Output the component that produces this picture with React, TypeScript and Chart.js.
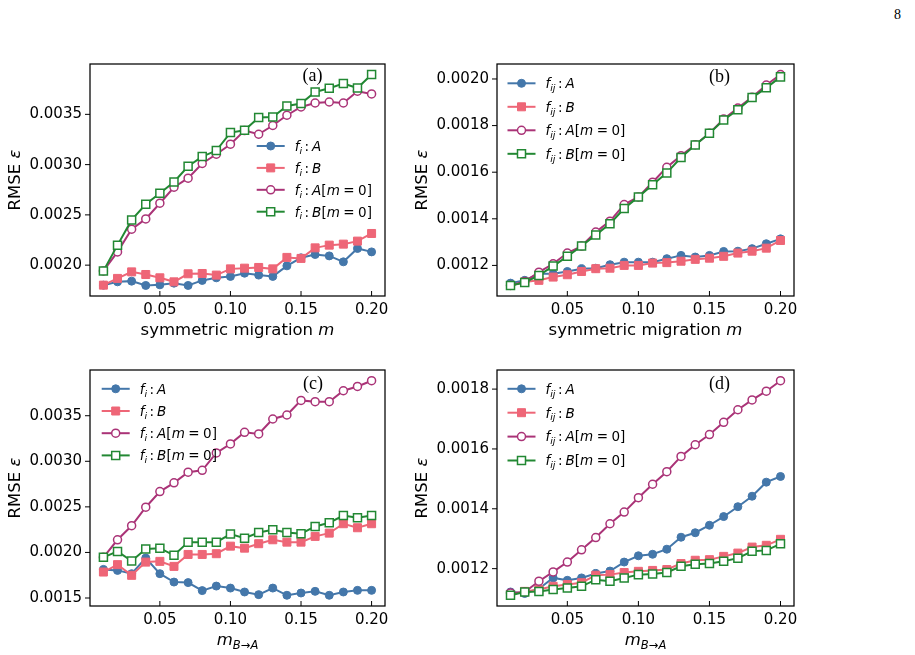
import React, { useEffect, useRef } from "react";
import { Chart, registerables } from "chart.js";

Chart.register(...registerables);

const SANS = '"DejaVu Sans", sans-serif';
const SERIF = '"Liberation Serif", "DejaVu Serif", serif';

// migration rates on the x axis
const M_VALUES = [
  0.01, 0.02, 0.03, 0.04, 0.05, 0.06, 0.07, 0.08, 0.09, 0.1,
  0.11, 0.12, 0.13, 0.14, 0.15, 0.16, 0.17, 0.18, 0.19, 0.2,
];
const X_TICKS = [0.05, 0.1, 0.15, 0.2];
const X_MIN = 0.0005;
const X_MAX = 0.2095;

// (a) symmetric migration, f_i
const A_FI_A = [0.001801, 0.001834, 0.001841, 0.001798, 0.001804, 0.001821, 0.001798, 0.001848, 0.001874, 0.001888, 0.00192, 0.001901, 0.001888, 0.001993, 0.002073, 0.002106, 0.002092, 0.002033, 0.002166, 0.002132];
const A_FI_B = [0.001801, 0.001868, 0.001933, 0.001907, 0.001874, 0.001834, 0.001914, 0.001917, 0.001901, 0.001963, 0.00197, 0.001977, 0.001963, 0.002077, 0.002067, 0.002172, 0.002199, 0.002209, 0.002239, 0.002315];
const A_FI_A0 = [0.001943, 0.002132, 0.002358, 0.00246, 0.002616, 0.002775, 0.002865, 0.003011, 0.003103, 0.003203, 0.003339, 0.003302, 0.003389, 0.003491, 0.003574, 0.003613, 0.003623, 0.003613, 0.00373, 0.003703];
const A_FI_B0 = [0.001943, 0.002199, 0.00245, 0.002606, 0.002716, 0.002828, 0.002984, 0.00308, 0.00314, 0.003319, 0.003342, 0.003468, 0.003474, 0.003583, 0.003607, 0.003723, 0.003759, 0.003806, 0.003762, 0.003896];
const A_Y_TICKS = [0.002, 0.0025, 0.003, 0.0035];

// (b) symmetric migration, f_ij
const B_FIJ_A = [0.001124, 0.001136, 0.001164, 0.001164, 0.001174, 0.001186, 0.001188, 0.001203, 0.001214, 0.001214, 0.001214, 0.001229, 0.001243, 0.001236, 0.001243, 0.00126, 0.001261, 0.001272, 0.001293, 0.001314];
const B_FIJ_B = [0.001114, 0.001129, 0.001136, 0.00115, 0.00116, 0.001174, 0.001186, 0.001188, 0.0012, 0.0012, 0.00121, 0.001212, 0.001218, 0.001226, 0.001231, 0.001239, 0.001253, 0.001261, 0.001274, 0.001307];
const B_FIJ_A0 = [0.001114, 0.001131, 0.001171, 0.001207, 0.001253, 0.001283, 0.001343, 0.00139, 0.001461, 0.001494, 0.001557, 0.001621, 0.001671, 0.001718, 0.001767, 0.001828, 0.001875, 0.001922, 0.001974, 0.002019];
const B_FIJ_B0 = [0.001114, 0.001127, 0.001157, 0.001197, 0.001239, 0.001283, 0.001331, 0.001379, 0.001444, 0.001494, 0.001546, 0.001597, 0.001663, 0.001717, 0.001767, 0.001824, 0.001868, 0.00192, 0.001962, 0.002009];
const B_Y_TICKS = [0.0012, 0.0014, 0.0016, 0.0018, 0.002];

// (c) one-way migration B -> A, f_i
const C_FI_A = [0.001814, 0.001803, 0.001767, 0.001938, 0.001767, 0.001675, 0.001669, 0.001581, 0.001631, 0.001609, 0.001566, 0.001537, 0.001609, 0.00153, 0.001555, 0.001573, 0.00153, 0.001566, 0.001584, 0.001584];
const C_FI_B = [0.001785, 0.001866, 0.001749, 0.001894, 0.001902, 0.001847, 0.001978, 0.001978, 0.001986, 0.002069, 0.002047, 0.002096, 0.002139, 0.002113, 0.002113, 0.002176, 0.002212, 0.002315, 0.002271, 0.002315];
const C_FI_A0 = [0.001946, 0.002139, 0.002293, 0.002496, 0.002668, 0.002764, 0.00288, 0.002901, 0.003092, 0.003191, 0.003318, 0.0033, 0.003464, 0.003508, 0.003668, 0.003654, 0.003654, 0.003774, 0.003821, 0.003884];
const C_FI_B0 = [0.001946, 0.002011, 0.001905, 0.002037, 0.002047, 0.001968, 0.002113, 0.002113, 0.002113, 0.002201, 0.002157, 0.002219, 0.002249, 0.002219, 0.002205, 0.002285, 0.002326, 0.002405, 0.00238, 0.002405];
const C_Y_TICKS = [0.0015, 0.002, 0.0025, 0.003, 0.0035];

// (d) one-way migration B -> A, f_ij
const D_FIJ_A = [0.001122, 0.001117, 0.001133, 0.001169, 0.001161, 0.001169, 0.001184, 0.001192, 0.001222, 0.001243, 0.001248, 0.001265, 0.001305, 0.00132, 0.001345, 0.001374, 0.001407, 0.001442, 0.001489, 0.001508];
const D_FIJ_B = [0.001113, 0.001124, 0.00113, 0.001141, 0.001147, 0.001153, 0.001178, 0.00118, 0.001187, 0.001191, 0.001194, 0.001197, 0.001217, 0.001228, 0.00123, 0.001241, 0.001252, 0.001272, 0.001278, 0.001298];
const D_FIJ_A0 = [0.001119, 0.001122, 0.001158, 0.001189, 0.001222, 0.001263, 0.001304, 0.00135, 0.001389, 0.001437, 0.001482, 0.001524, 0.001575, 0.001614, 0.001648, 0.001689, 0.001731, 0.001764, 0.001793, 0.001828];
const D_FIJ_B0 = [0.001111, 0.001122, 0.001124, 0.00113, 0.001135, 0.001141, 0.001163, 0.001158, 0.001169, 0.00118, 0.001182, 0.001187, 0.001208, 0.001215, 0.001217, 0.001225, 0.001235, 0.001258, 0.001261, 0.001283];
const D_Y_TICKS = [0.0012, 0.0014, 0.0016, 0.0018];

const BLUE = "#4477AA";
const PINK = "#EE6677";
const PURPLE = "#AA3377";
const GREEN = "#228833";

type Run = { t: string; it?: boolean; sub?: boolean; gap?: number };

function legendRuns(sub: string, pop: string, m0: boolean): Run[] {
  const runs: Run[] = [
    { t: "f", it: true },
    { t: sub, it: true, sub: true },
    { t: ":", gap: 2.5 },
    { t: pop, it: true, gap: 3 },
  ];
  if (m0) {
    runs.push({ t: "[" }, { t: "m", it: true }, { t: "=", gap: 3.5 }, { t: "0", gap: 3.5 }, { t: "]" });
  }
  return runs;
}

const X_TITLE_SYM: Run[] = [{ t: "symmetric migration " }, { t: "m", it: true }];
const X_TITLE_BA: Run[] = [
  { t: "m", it: true },
  { t: "B", it: true, sub: true },
  { t: "→", sub: true },
  { t: "A", it: true, sub: true },
];
const Y_TITLE: Run[] = [{ t: "RMSE " }, { t: "ε", it: true }];

type Series = { runs: Run[]; values: number[]; color: string; shape: "circle" | "rect"; hollow: boolean };

type PanelSpec = {
  tag: string;
  frame: { L: number; T: number; R: number; B: number };
  yTicks: number[];
  xTitle: Run[];
  series: Series[];
  legend: { x: number; y: number; step: number };
  tagPos: { x: number; y: number };
};

function fourSeries(sub: string, a: number[], b: number[], a0: number[], b0: number[]): Series[] {
  return [
    { runs: legendRuns(sub, "A", false), values: a, color: BLUE, shape: "circle", hollow: false },
    { runs: legendRuns(sub, "B", false), values: b, color: PINK, shape: "rect", hollow: false },
    { runs: legendRuns(sub, "A", true), values: a0, color: PURPLE, shape: "circle", hollow: true },
    { runs: legendRuns(sub, "B", true), values: b0, color: GREEN, shape: "rect", hollow: true },
  ];
}

const PANELS: PanelSpec[] = [
  {
    tag: "(a)",
    frame: { L: 90, T: 64, R: 385, B: 296 },
    yTicks: A_Y_TICKS,
    xTitle: X_TITLE_SYM,
    series: fourSeries("i", A_FI_A, A_FI_B, A_FI_A0, A_FI_B0),
    legend: { x: 166.7, y: 82, step: 21.9 },
    tagPos: { x: 222.5, y: 12 },
  },
  {
    tag: "(b)",
    frame: { L: 497, T: 64, R: 794, B: 296 },
    yTicks: B_Y_TICKS,
    xTitle: X_TITLE_SYM,
    series: fourSeries("ij", B_FIJ_A, B_FIJ_B, B_FIJ_A0, B_FIJ_B0),
    legend: { x: 10.5, y: 19.3, step: 23.5 },
    tagPos: { x: 222.5, y: 13 },
  },
  {
    tag: "(c)",
    frame: { L: 90, T: 369.5, R: 385, B: 605.5 },
    yTicks: C_Y_TICKS,
    xTitle: X_TITLE_BA,
    series: fourSeries("i", C_FI_A, C_FI_B, C_FI_A0, C_FI_B0),
    legend: { x: 11.7, y: 18.8, step: 22.2 },
    tagPos: { x: 223, y: 14.5 },
  },
  {
    tag: "(d)",
    frame: { L: 497, T: 369.5, R: 794, B: 605.5 },
    yTicks: D_Y_TICKS,
    xTitle: X_TITLE_BA,
    series: fourSeries("ij", D_FIJ_A, D_FIJ_B, D_FIJ_A0, D_FIJ_B0),
    legend: { x: 10.5, y: 18.8, step: 23.9 },
    tagPos: { x: 222.5, y: 14.5 },
  },
];

// 5% margin on both sides of the data, as the plotting defaults do
function paddedRange(series: Series[]) {
  let lo = Infinity;
  let hi = -Infinity;
  for (const s of series) for (const v of s.values) { lo = Math.min(lo, v); hi = Math.max(hi, v); }
  const pad = (hi - lo) * 0.05;
  return { min: lo - pad, max: hi + pad };
}

const PAD_LEFT = 90;
const PAD_TOP = 50;
const PAD_RIGHT = 20;
const PAD_BOTTOM = 60;

const TICK_FONT = 15;
const TITLE_FONT = 16.5;
const LEGEND_FONT = 13.5;

function font(size: number, italic?: boolean) {
  return `${italic ? "italic " : ""}${size}px ${SANS}`;
}

function runsWidth(ctx: CanvasRenderingContext2D, runs: Run[], size: number) {
  let w = 0;
  for (const r of runs) {
    const s = r.sub ? size * 0.7 : size;
    ctx.font = font(s, r.it);
    w += (r.gap || 0) + ctx.measureText(r.t).width;
  }
  return w;
}

function drawRuns(ctx: CanvasRenderingContext2D, runs: Run[], x: number, baseline: number, size: number) {
  ctx.textAlign = "left";
  ctx.textBaseline = "alphabetic";
  let cx = x;
  for (const r of runs) {
    const s = r.sub ? size * 0.7 : size;
    ctx.font = font(s, r.it);
    cx += r.gap || 0;
    ctx.fillText(r.t, cx, baseline + (r.sub ? size * 0.22 : 0));
    cx += ctx.measureText(r.t).width;
  }
}

function drawMarker(ctx: CanvasRenderingContext2D, s: Series, x: number, y: number) {
  ctx.beginPath();
  if (s.shape === "circle") ctx.arc(x, y, 4, 0, Math.PI * 2);
  else ctx.rect(x - 4, y - 4, 8, 8);
  ctx.fillStyle = s.hollow ? "#ffffff" : s.color;
  ctx.fill();
  ctx.strokeStyle = s.color;
  ctx.lineWidth = s.hollow ? 1.5 : 1;
  ctx.stroke();
}

function decorPlugin(p: PanelSpec) {
  return {
    id: "panelDecor",
    afterDatasetsDraw(chart: any) {
      const { ctx, chartArea: ca, scales } = chart;
      const xs = scales.x;
      const ys = scales.y;
      ctx.save();

      // axes box
      ctx.strokeStyle = "#000000";
      ctx.lineWidth = 1.25;
      ctx.strokeRect(ca.left, ca.top, ca.right - ca.left, ca.bottom - ca.top);

      // x ticks point inward, y ticks point outward
      ctx.lineWidth = 1;
      ctx.beginPath();
      for (const v of X_TICKS) {
        const px = xs.getPixelForValue(v);
        ctx.moveTo(px, ca.bottom);
        ctx.lineTo(px, ca.bottom - 5);
      }
      for (const v of p.yTicks) {
        const py = ys.getPixelForValue(v);
        ctx.moveTo(ca.left - 5, py);
        ctx.lineTo(ca.left, py);
      }
      ctx.stroke();

      // legend
      p.series.forEach((s, i) => {
        const lx = ca.left + p.legend.x;
        const ly = ca.top + p.legend.y + i * p.legend.step;
        ctx.strokeStyle = s.color;
        ctx.lineWidth = 2;
        ctx.beginPath();
        ctx.moveTo(lx, ly);
        ctx.lineTo(lx + 28, ly);
        ctx.stroke();
        drawMarker(ctx, s, lx + 14, ly);
        ctx.fillStyle = "#000000";
        drawRuns(ctx, s.runs, lx + 38, ly + 4.8, LEGEND_FONT);
      });

      // panel tag
      ctx.fillStyle = "#000000";
      ctx.font = `18px ${SERIF}`;
      ctx.textAlign = "center";
      ctx.textBaseline = "middle";
      ctx.fillText(p.tag, ca.left + p.tagPos.x, ca.top + p.tagPos.y);

      // x title
      const cx = (ca.left + ca.right) / 2;
      const wx = runsWidth(ctx, p.xTitle, TITLE_FONT);
      drawRuns(ctx, p.xTitle, cx - wx / 2, ca.bottom + 39, TITLE_FONT);

      // y title, rotated
      const cy = (ca.top + ca.bottom) / 2;
      const wy = runsWidth(ctx, Y_TITLE, TITLE_FONT);
      ctx.save();
      ctx.translate(ca.left - 70, cy);
      ctx.rotate(-Math.PI / 2);
      drawRuns(ctx, Y_TITLE, -wy / 2, 0, TITLE_FONT);
      ctx.restore();

      ctx.restore();
    },
  };
}

function Panel({ spec }: { spec: PanelSpec }) {
  const ref = useRef<HTMLCanvasElement>(null);
  const { L, T, R, B } = spec.frame;
  const left = L - PAD_LEFT;
  const top = T - PAD_TOP;
  const width = R - L + PAD_LEFT + PAD_RIGHT;
  const height = B - T + PAD_TOP + PAD_BOTTOM;

  useEffect(() => {
    const yr = paddedRange(spec.series);
    const datasets = spec.series.map((s, i) => ({
      label: s.runs.map((r) => r.t).join(""),
      data: M_VALUES.map((m, k) => ({ x: m, y: s.values[k] })),
      borderColor: s.color,
      backgroundColor: s.hollow ? "#ffffff" : s.color,
      borderWidth: 2,
      pointStyle: s.shape,
      pointRadius: s.shape === "circle" ? 4 : 5.66,
      pointBorderWidth: s.hollow ? 1.5 : 1,
      pointBorderColor: s.color,
      pointBackgroundColor: s.hollow ? "#ffffff" : s.color,
      tension: 0,
      order: 4 - i,
    }));

    const chart = new Chart(ref.current!, {
      type: "line",
      data: { datasets },
      options: {
        animation: false,
        responsive: false,
        events: [],
        layout: { padding: { left: 0, top: PAD_TOP, right: PAD_RIGHT, bottom: 0 } },
        plugins: { legend: { display: false }, tooltip: { enabled: false } },
        scales: {
          x: {
            type: "linear",
            min: X_MIN,
            max: X_MAX,
            grid: { display: false, drawTicks: false },
            border: { display: false },
            ticks: {
              autoSkip: false,
              maxRotation: 0,
              padding: 5,
              color: "#000000",
              font: { family: SANS, size: TICK_FONT },
              callback: (v: any) => Number(v).toFixed(2),
            },
            afterBuildTicks: (s: any) => {
              s.ticks = X_TICKS.map((v) => ({ value: v }));
            },
            afterFit: (s: any) => {
              s.height = PAD_BOTTOM;
              s.paddingLeft = 0;
              s.paddingRight = 0;
            },
          },
          y: {
            type: "linear",
            min: yr.min,
            max: yr.max,
            grid: { display: false, drawTicks: false },
            border: { display: false },
            ticks: {
              autoSkip: false,
              padding: 8,
              color: "#000000",
              font: { family: SANS, size: TICK_FONT },
              callback: (v: any) => Number(v).toFixed(4),
            },
            afterBuildTicks: (s: any) => {
              s.ticks = spec.yTicks.map((v) => ({ value: v }));
            },
            afterFit: (s: any) => {
              s.width = PAD_LEFT;
              s.paddingTop = 0;
              s.paddingBottom = 0;
            },
          },
        },
      },
      plugins: [decorPlugin(spec)],
    } as any);
    return () => chart.destroy();
  }, [spec]);

  return (
    <canvas
      ref={ref}
      width={width}
      height={height}
      style={{ position: "absolute", left, top, width, height }}
    />
  );
}

export default function App() {
  return (
    <div
      style={{
        position: "absolute",
        left: 0,
        top: 0,
        width: 915,
        height: 655,
        background: "#ffffff",
        overflow: "hidden",
      }}
    >
      <div
        style={{
          position: "absolute",
          left: 894,
          top: 5,
          fontFamily: SERIF,
          fontSize: 14,
          lineHeight: "20px",
          color: "#000000",
        }}
      >
        8
      </div>
      {PANELS.map((p) => (
        <Panel key={p.tag} spec={p} />
      ))}
    </div>
  );
}
